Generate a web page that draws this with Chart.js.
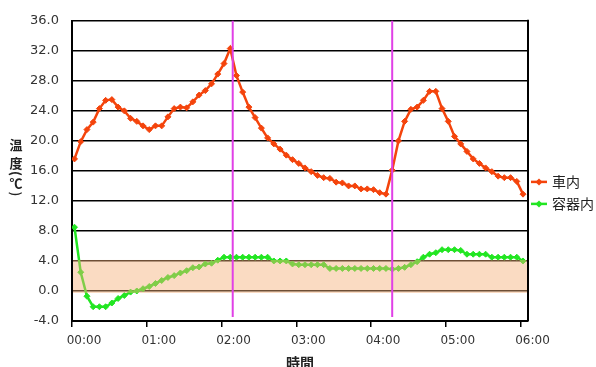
<!DOCTYPE html>
<html>
<head>
<meta charset="utf-8">
<script src="https://cdn.jsdelivr.net/npm/chart.js@4.4.1/dist/chart.umd.min.js"></script>
<style>
  html, body { margin: 0; padding: 0; background: #fff; }
</style>
</head>
<body>
<canvas id="myChart" width="596" height="367"></canvas>
<script>
// logger samples every 5 min, first one just after 00:00
var startMinute = 2;
var stepMinutes = 5;

// 車内 (in the car)
var carTemps = [
    17.6, 19.9, 21.5, 22.5, 24.3, 25.4, 25.5, 24.5, 24.0, 23.0, 22.6, 22.0, 21.5,
    22.0, 22.0, 23.2, 24.3, 24.5, 24.4, 25.2, 26.1, 26.7, 27.6, 28.9, 30.3, 32.3,
    28.7, 26.5, 24.5, 23.1, 21.7, 20.4, 19.6, 18.9, 18.1, 17.5, 17.0, 16.4, 15.9,
    15.4, 15.1, 15.0, 14.5, 14.4, 14.0, 14.0, 13.6, 13.6, 13.5, 13.1, 12.9,
    16.1, 20.0, 22.6, 24.2, 24.5, 25.4, 26.6, 26.6, 24.3, 22.6, 20.6, 19.6, 18.6,
    17.6, 17.0, 16.4, 15.9, 15.3, 15.1, 15.1, 14.6, 12.9
];

// 容器内 (inside the container)
var boxTemps = [
    8.5, 2.5, -0.7, -2.1, -2.1, -2.1, -1.6, -1.0, -0.6, -0.15, 0.0, 0.3, 0.6,
    1.0, 1.4, 1.8, 2.05, 2.4, 2.7, 3.1, 3.2, 3.6, 3.7, 4.1, 4.5, 4.5, 4.5,
    4.5, 4.5, 4.5, 4.5, 4.5, 4.0, 4.0, 4.0, 3.6, 3.5, 3.5, 3.5, 3.5, 3.5,
    3.0, 3.0, 3.0, 3.0, 3.0, 3.0, 3.0, 3.0, 3.0, 3.0,
    2.9, 3.0, 3.15, 3.5, 3.9, 4.5, 4.9, 5.1, 5.5, 5.5, 5.5, 5.4, 4.9, 4.9,
    4.9, 4.9, 4.5, 4.5, 4.5, 4.5, 4.5, 4.0
];

var seriesNames = ['車内', '容器内'];
var seriesColors = ['#f4440c', '#22e622'];

// door opened (minutes after 00:00)
var eventMinutes = [129, 257];

// safe range band
var bandLow = 0;
var bandHigh = 4;

var yMin = -4, yMax = 36, yStep = 4;
var xMaxMinutes = 366;
var hourStep = 60;

function toPoints(values){
    var pts = [];
    for (var i = 0; i < values.length; i++){
        pts.push({x: startMinute + i * stepMinutes, y: values[i]});
    }
    return pts;
}

function hhmm(m){
    var h = Math.floor(m / 60), mm = m % 60;
    return (h < 10 ? '0' : '') + h + ':' + (mm < 10 ? '0' : '') + mm;
}

var jpFont = '"Noto Sans CJK JP", sans-serif';

// band, event lines, frame, legend, vertical y title
var decor = {
    id: 'decor',
    afterDatasetsDraw: function(chart){
        var ctx = chart.ctx, area = chart.chartArea;
        var xs = chart.scales.x, ys = chart.scales.y;
        ctx.save();
        var top = ys.getPixelForValue(bandHigh), bot = ys.getPixelForValue(bandLow);
        ctx.fillStyle = 'rgba(244,176,120,0.45)';
        ctx.fillRect(area.left + 1, top - 1, area.right - area.left - 1, bot - top + 3);

        ctx.strokeStyle = '#e040e6';
        ctx.lineWidth = 2;
        eventMinutes.forEach(function(m){
            var px = xs.getPixelForValue(m);
            ctx.beginPath();
            ctx.moveTo(px, area.top);
            ctx.lineTo(px, area.bottom - 4);
            ctx.stroke();
        });

        ctx.strokeStyle = '#000';
        ctx.lineWidth = 2;
        ctx.beginPath();
        ctx.moveTo(area.right, area.top - 1);
        ctx.lineTo(area.right, area.bottom);
        ctx.stroke();
        ctx.restore();
    },
    afterDraw: function(chart){
        var ctx = chart.ctx, area = chart.chartArea;
        var mid = (area.top + area.bottom) / 2;
        ctx.save();

        // legend
        ctx.font = '14px ' + jpFont;
        ctx.textBaseline = 'middle';
        ctx.textAlign = 'left';
        chart.data.datasets.forEach(function(ds, i){
            var ly = mid + 11 + i * 22;
            var lx = area.right + 3;
            ctx.strokeStyle = ds.borderColor;
            ctx.fillStyle = ds.borderColor;
            ctx.lineWidth = 2.5;
            ctx.beginPath();
            ctx.moveTo(lx, ly);
            ctx.lineTo(lx + 16, ly);
            ctx.stroke();
            ctx.beginPath();
            ctx.moveTo(lx + 8, ly - 3.5);
            ctx.lineTo(lx + 11.5, ly);
            ctx.lineTo(lx + 8, ly + 3.5);
            ctx.lineTo(lx + 4.5, ly);
            ctx.closePath();
            ctx.fill();
            ctx.fillStyle = '#222';
            ctx.fillText(ds.label, lx + 21, ly);
        });

        // y title, stacked top to bottom; brackets turned for vertical writing
        var chars = ['温', '度', '(', '℃', ')'];
        var offs = [-25.5, -7.5, 2.5, 12.5, 23];
        var turn = [false, false, true, false, true];
        ctx.font = 'bold 13px ' + jpFont;
        ctx.textAlign = 'center';
        ctx.fillStyle = '#222';
        chars.forEach(function(c, i){
            ctx.save();
            ctx.translate(16, mid + offs[i]);
            if (turn[i]) ctx.rotate(Math.PI / 2);
            ctx.fillText(c, 0, 0);
            ctx.restore();
        });
        ctx.restore();
    }
};

var chart = document.getElementById('myChart');
var myChart = new Chart(chart, {
    type: 'line',
    data: {
        datasets: [{
            label: seriesNames[0],
            data: toPoints(carTemps),
            borderColor: seriesColors[0],
            backgroundColor: seriesColors[0],
            borderWidth: 2.5,
            pointStyle: 'rectRot',
            pointRadius: 3,
            pointBorderWidth: 1,
            tension: 0,
            fill: false
        }, {
            label: seriesNames[1],
            data: toPoints(boxTemps),
            borderColor: seriesColors[1],
            backgroundColor: seriesColors[1],
            borderWidth: 2.5,
            pointStyle: 'rectRot',
            pointRadius: 3,
            pointBorderWidth: 1,
            tension: 0,
            fill: false
        }]
    },
    options: {
        responsive: false,
        animation: false,
        layout: { padding: { top: 18, right: 68, left: 0, bottom: 0 } },
        plugins: {
            legend: { display: false },
            tooltip: { enabled: false }
        },
        scales: {
            x: {
                type: 'linear',
                min: 0,
                max: xMaxMinutes,
                ticks: {
                    stepSize: hourStep,
                    includeBounds: false,
                    callback: function(v){ return hhmm(v); },
                    labelOffset: 12,
                    padding: 7,
                    maxRotation: 0,
                    color: '#333',
                    font: { family: 'DejaVu Sans', size: 12 }
                },
                grid: { drawOnChartArea: false, drawTicks: true, tickLength: 6, color: '#000', lineWidth: 1.5 },
                border: { color: '#000', width: 2 },
                title: {
                    display: true,
                    text: '時間',
                    color: '#222',
                    font: { family: jpFont, size: 14, weight: 'bold' },
                    padding: { top: 0, bottom: -4 }
                },
                afterFit: function(s){ s.height = 46; }
            },
            y: {
                min: yMin,
                max: yMax,
                ticks: {
                    stepSize: yStep,
                    callback: function(v){ return v.toFixed(1); },
                    padding: 13,
                    color: '#333',
                    font: { family: 'DejaVu Sans', size: 13 }
                },
                grid: { color: '#000', lineWidth: 1.5, drawTicks: false },
                border: { color: '#000', width: 2 },
                afterFit: function(s){ s.width = 72; }
            }
        }
    },
    plugins: [decor]
});
</script>
</body>
</html>
